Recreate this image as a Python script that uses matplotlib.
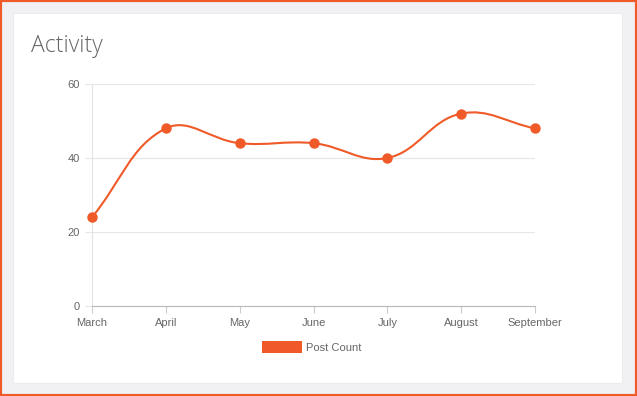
import numpy as np
import matplotlib.pyplot as plt
from matplotlib.patches import Rectangle, PathPatch
from matplotlib.path import Path

months = ["March", "April", "May", "June", "July", "August", "September"]
post_count = [24, 48, 44, 44, 40, 52, 48]
y_ticks = [0, 20, 40, 60]

ORANGE = "#f05a28"
W, H = 637, 396


def spline_controls(pts, t=0.4):
    # chart.js style bezier control points, computed in pixel space
    ctrl = []
    n = len(pts)
    for i in range(n):
        prev = pts[max(i - 1, 0)]
        cur = pts[i]
        nxt = pts[min(i + 1, n - 1)]
        d01 = np.hypot(*(cur - prev))
        d12 = np.hypot(*(nxt - cur))
        tot = d01 + d12
        s01 = d01 / tot if tot else 0
        s12 = d12 / tot if tot else 0
        c_prev = cur - t * s01 * (nxt - prev)
        c_next = cur + t * s12 * (nxt - prev)
        ctrl.append((c_prev, c_next))
    return ctrl


def px(x, y):
    return x / W, 1 - y / H


fig = plt.figure(figsize=(W / 100, H / 100), dpi=100)
fig.patch.set_facecolor("#f1f1f3")

# orange frame + white card
fig.patches.append(Rectangle((0, 0), 1, 1, transform=fig.transFigure,
                             fill=False, edgecolor=ORANGE, linewidth=3, zorder=-2))
fig.patches.append(Rectangle(px(13, 383), (622 - 13) / W, (383 - 13) / H,
                             transform=fig.transFigure, facecolor="white",
                             edgecolor="#ececee", linewidth=0.8, zorder=-1))

fig.text(*px(31, 46), "Activity", fontsize=16.5, color="#666666",
         family="Open Sans", weight="light", va="center", ha="left")

x0, x1 = 92, 535
y0, y1 = 306, 84
ax = fig.add_axes([x0 / W, 1 - y0 / H, (x1 - x0) / W, (y0 - y1) / H])
ax.set_zorder(1)
ax.set_xlim(0, len(months) - 1)
ax.set_ylim(0, 60)
ax.patch.set_alpha(0)

xs = np.arange(len(months))
ax.set_xticks(xs)
ax.set_xticklabels(months)
ax.set_yticks(y_ticks)
ax.tick_params(axis="both", labelsize=8, colors="#666666", length=5,
               width=0.8, pad=4)
ax.tick_params(axis="x", color="#cccccc")
ax.tick_params(axis="y", color="#e6e6e6")
for lbl in ax.get_xticklabels() + ax.get_yticklabels():
    lbl.set_family("Liberation Sans")

for s in ["top", "right"]:
    ax.spines[s].set_visible(False)
ax.spines["left"].set_color("#e3e3e3")
ax.spines["bottom"].set_color("#b8b8b8")
ax.yaxis.grid(True, color="#e6e6e6", linewidth=0.8)
ax.set_axisbelow(True)

# smooth line through the points
pts = ax.transData.transform(np.column_stack([xs, post_count]))
ctrl = spline_controls(pts)
verts = [pts[0]]
codes = [Path.MOVETO]
for i in range(1, len(pts)):
    verts += [ctrl[i - 1][1], ctrl[i][0], pts[i]]
    codes += [Path.CURVE4] * 3
verts = ax.transData.inverted().transform(np.array(verts))
ax.add_patch(PathPatch(Path(verts, codes), facecolor="none",
                       edgecolor=ORANGE, linewidth=1.5, clip_on=False))
ax.plot(xs, post_count, "o", color=ORANGE, markersize=6.5, clip_on=False,
        zorder=3)

# legend
fig.patches.append(Rectangle(px(262, 353), 40 / W, 12 / H,
                             transform=fig.transFigure, facecolor=ORANGE,
                             edgecolor="none"))
fig.text(*px(306, 348), "Post Count", fontsize=8, color="#666666",
         family="Liberation Sans", va="center", ha="left")

fig.savefig("out.png", dpi=100, facecolor=fig.get_facecolor())
